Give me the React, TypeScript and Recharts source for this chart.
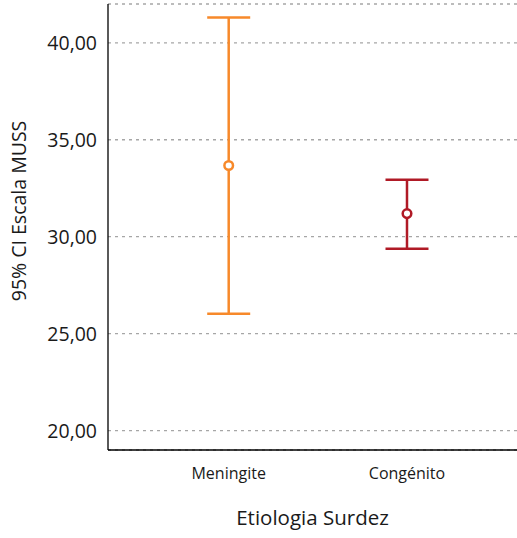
import { CartesianGrid, ErrorBar, Label, Scatter, ScatterChart, XAxis, YAxis } from "recharts";

// group positions on the x axis and their names
const groups = ["Meningite", "Congénito"];
const groupPos = [1, 2];
const means = [33.67, 31.19];
const lower = [26.03, 29.38];
const upper = [41.3, 32.94];
const colors = ["#f7892a", "#b01a26"];
const yTicks = [20, 25, 30, 35, 40];

const series = groups.map((g, i) => ({
  name: g,
  color: colors[i],
  data: [{ x: groupPos[i], y: means[i], err: [means[i] - lower[i], upper[i] - means[i]] }],
}));

const font = "'Open Sans', sans-serif";
const fmt = (v: number) => v.toFixed(2).replace(".", ",");

const Dot = (props: any) => {
  const { cx, cy, fill } = props;
  return <circle cx={cx} cy={cy} r={4.3} fill="#fff" stroke={fill} strokeWidth={2.5} />;
};

export default function App() {
  return (
    <div style={{ position: "absolute", left: 0, top: 0, background: "#fff" }}>
      <ScatterChart width={517} height={538} margin={{ top: 4, right: 0, bottom: 0, left: 0 }}>
        <CartesianGrid vertical={false} stroke="#a6a6a6" strokeDasharray="3 4" strokeWidth={1.3} />
        <XAxis
          type="number"
          dataKey="x"
          domain={[0.323, 2.617]}
          ticks={groupPos}
          allowDataOverflow
          tickFormatter={(v: number) => groups[groupPos.indexOf(v)] ?? ""}
          tickLine={false}
          tickMargin={12}
          height={88}
          stroke="#000"
          strokeWidth={1.3}
          tick={{ fontSize: 16, fill: "#1a1a1a", fontFamily: font }}
        >
          <Label
            value="Etiologia Surdez"
            position="insideBottom"
            offset={13}
            style={{ fontSize: 20.5, fill: "#1a1a1a", fontFamily: font }}
          />
        </XAxis>
        <YAxis
          type="number"
          dataKey="y"
          domain={[19, 42]}
          ticks={yTicks}
          allowDataOverflow
          tickFormatter={fmt}
          tickLine={false}
          tickMargin={5}
          width={108}
          stroke="#000"
          strokeWidth={1.3}
          tick={{ fontSize: 19.5, fill: "#1a1a1a", fontFamily: font }}
        >
          <Label
            content={(p: any) => {
              const vb = p.viewBox;
              const x = 18;
              const y = vb.y + vb.height / 2 - 16;
              return (
                <text
                  x={x}
                  y={y}
                  transform={`rotate(-90 ${x} ${y})`}
                  textAnchor="middle"
                  dominantBaseline="central"
                  style={{ fontSize: 19.5, fill: "#1a1a1a", fontFamily: font }}
                >
                  95% CI Escala MUSS
                </text>
              );
            }}
          />
        </YAxis>
        {series.map((s) => (
          <Scatter
            key={s.name}
            name={s.name}
            data={s.data}
            fill={s.color}
            shape={<Dot />}
            isAnimationActive={false}
          >
            <ErrorBar dataKey="err" direction="y" width={21.5} stroke={s.color} strokeWidth={2.5} />
          </Scatter>
        ))}
      </ScatterChart>
    </div>
  );
}
